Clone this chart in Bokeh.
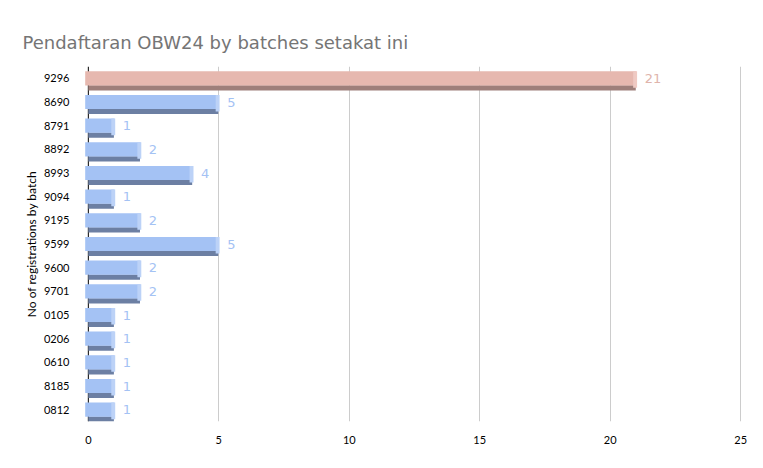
from bokeh.plotting import figure
from bokeh.models import Range1d, FactorRange, ColumnDataSource, Span
from bokeh.transform import dodge
from bokeh.core.properties import value
from bokeh.embed import file_html
from bokeh.resources import INLINE

# Registrations per batch, listed top to bottom
batches = ["9296", "8690", "8791", "8892", "8993", "9094", "9195", "9599",
           "9600", "9701", "0105", "0206", "0610", "8185", "0812"]
counts = [21, 5, 1, 2, 4, 1, 2, 5, 2, 2, 1, 1, 1, 1, 1]
x_ticks = [0, 5, 10, 15, 20, 25]

face_colors = ["#e6b8af" if b == "9296" else "#a4c2f4" for b in batches]
side_colors = ["#9e7f7a" if b == "9296" else "#6c7fa3" for b in batches]
cap_colors = ["#efcac3" if b == "9296" else "#bcd2f7" for b in batches]
label_colors = ["#e0b4ab" if b == "9296" else "#a4c2f4" for b in batches]

src = ColumnDataSource(dict(
    batch=batches,
    count=counts,
    face_left=[-0.12] * len(counts),
    side_left=[0.0] * len(counts),
    side_right=[c - 0.02 for c in counts],
    cap_left=[c - 0.12 for c in counts],
    cap_right=[c + 0.03 for c in counts],
    label_x=[c + 0.32 for c in counts],
    label=[str(c) for c in counts],
    face=face_colors,
    side=side_colors,
    cap=cap_colors,
    lab=label_colors,
))

p = figure(
    width=763, height=468,
    y_range=FactorRange(*reversed(batches), range_padding=0),
    x_range=Range1d(-0.3, 25.3),
    output_backend="svg", toolbar_location=None,
    min_border_left=80, min_border_right=15,
    min_border_top=66, min_border_bottom=47,
    outline_line_color=None,
)

p.title.text = "Pendaftaran OBW24 by batches setakat ini"
p.title.text_font = "DejaVu Sans"
p.title.text_font_size = "18px"
p.title.text_font_style = "normal"
p.title.text_color = "#757575"
p.title.offset = -58
p.title.standoff = 28

# depth band below each bar
p.hbar(y=dodge("batch", -0.4, range=p.y_range), left="side_left", right="side_right",
       height=0.22, source=src, fill_color="side", line_color=None)
# front face
p.hbar(y="batch", left="face_left", right="count", height=0.6, source=src,
       fill_color="face", line_color=None)
# bevelled end of the face
p.hbar(y=dodge("batch", -0.05, range=p.y_range), left="cap_left", right="cap_right",
       height=0.7, source=src, fill_color="cap", line_color=None)

p.text(x="label_x", y="batch", text="label", source=src, text_color="lab",
       text_font=value("DejaVu Sans"), text_font_size="13px",
       text_baseline="middle", text_align="left")

p.add_layout(Span(location=0, dimension="height", line_color="#000000",
                  line_width=1, level="underlay"))

p.xgrid.ticker = x_ticks[1:]
p.xgrid.grid_line_color = "#cccccc"
p.ygrid.grid_line_color = None

p.xaxis.ticker = x_ticks
p.xaxis.axis_line_color = None
p.xaxis.major_tick_line_color = None
p.xaxis.minor_tick_line_color = None
p.xaxis.major_label_text_font = "Lato"
p.xaxis.major_label_text_font_size = "11px"
p.xaxis.major_label_text_color = "#000000"
p.xaxis.major_label_standoff = 8

p.yaxis.axis_line_color = None
p.yaxis.major_tick_line_color = None
p.yaxis.major_label_text_font = "Lato"
p.yaxis.major_label_text_font_size = "11px"
p.yaxis.major_label_text_color = "#000000"
p.yaxis.major_label_standoff = 5
p.yaxis.axis_label = "No of registrations by batch"
p.yaxis.axis_label_text_font = "Lato"
p.yaxis.axis_label_text_font_size = "12px"
p.yaxis.axis_label_text_font_style = "normal"
p.yaxis.axis_label_text_color = "#000000"
p.yaxis.axis_label_standoff = 2

open("out.html", "w").write(file_html(p, INLINE))
